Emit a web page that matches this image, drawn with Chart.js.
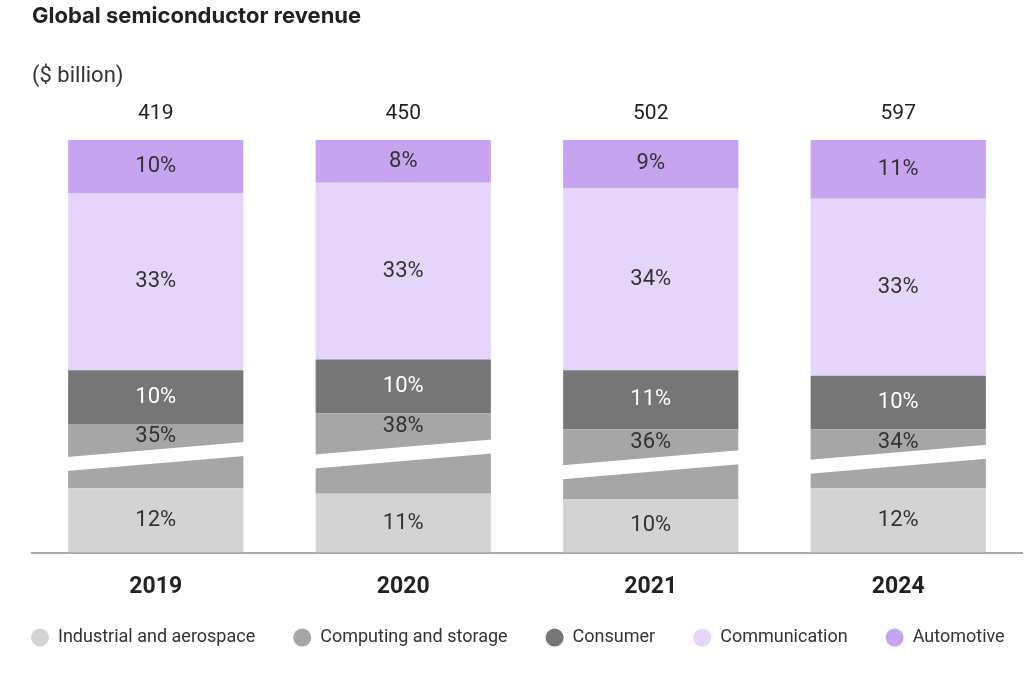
<!DOCTYPE html>
<html>
<head>
<meta charset="utf-8">
<script src="https://cdn.jsdelivr.net/npm/chart.js@4.4.1/dist/chart.umd.min.js"></script>
<style>
html, body { margin: 0; padding: 0; background: #fff; }
#wrap { width: 1024px; height: 681px; }
</style>
</head>
<body>
<div id="wrap"><canvas id="chart"></canvas></div>
<script>
var years = ['2019', '2020', '2021', '2024'];
var totals = [419, 450, 502, 597];
var industrial = [12, 11, 10, 12];
var computing = [35, 38, 36, 34];
var consumer = [10, 10, 11, 10];
var communication = [33, 33, 34, 33];
var automotive = [10, 8, 9, 11];
// the computing segment is drawn on a broken axis: this many points are cut out
var breakCut = 23;

var FONT = 'Roboto';

var segmentLabels = {
	id: 'segmentLabels',
	afterDatasetsDraw: function(chart) {
		var ctx = chart.ctx;
		ctx.save();
		// white diagonal break through the computing segment
		ctx.fillStyle = '#ffffff';
		chart.getDatasetMeta(1).data.forEach(function(bar) {
			var l = bar.x - bar.width / 2 - 1;
			var r = bar.x + bar.width / 2 + 1;
			var mid = (bar.y + bar.base) / 2;
			ctx.beginPath();
			ctx.moveTo(l, mid + 1);
			ctx.lineTo(r, mid - 14);
			ctx.lineTo(r, mid);
			ctx.lineTo(l, mid + 15);
			ctx.closePath();
			ctx.fill();
		});
		// percentage labels
		ctx.font = '22px ' + FONT;
		ctx.textAlign = 'center';
		ctx.textBaseline = 'middle';
		chart.data.datasets.forEach(function(ds, i) {
			var meta = chart.getDatasetMeta(i);
			ctx.fillStyle = ds.labelColor;
			meta.data.forEach(function(bar, j) {
				var y = i == 1 ? bar.y + 13 : (bar.y + bar.base) / 2;
				ctx.fillText(ds.pct[j] + '%', bar.x, y);
			});
		});
		// totals on top
		ctx.font = '21px ' + FONT;
		ctx.fillStyle = '#222222';
		var top = chart.getDatasetMeta(chart.data.datasets.length - 1);
		top.data.forEach(function(bar, j) {
			ctx.fillText(totals[j], bar.x, bar.y - 26);
		});
		ctx.restore();
	}
};

// legend in one row, like the original
var legendRow = {
	id: 'legendRow',
	afterDraw: function(chart) {
		var ctx = chart.ctx;
		var y = chart.chartArea.bottom + 85;
		var x = chart.chartArea.left + 8;
		ctx.save();
		ctx.font = '18px ' + FONT;
		ctx.textAlign = 'left';
		ctx.textBaseline = 'middle';
		chart.data.datasets.forEach(function(ds) {
			ctx.fillStyle = ds.backgroundColor;
			ctx.beginPath();
			ctx.arc(x, y, 9, 0, Math.PI * 2);
			ctx.fill();
			ctx.fillStyle = '#333333';
			ctx.fillText(ds.label, x + 18, y);
			x += 18 + ctx.measureText(ds.label).width + 47;
		});
		ctx.restore();
	}
};

var chart = new Chart(document.getElementById('chart').getContext('2d'), {
	type: 'bar',
	data: {
		labels: years,
		datasets: [
		{
			label: 'Industrial and aerospace',
			data: industrial,
			pct: industrial,
			backgroundColor: '#d3d3d3',
			labelColor: '#333333',
		},
		{
			label: 'Computing and storage',
			data: computing.map(function(v) { return v - breakCut; }),
			pct: computing,
			backgroundColor: '#a6a6a6',
			labelColor: '#333333',
		},
		{
			label: 'Consumer',
			data: consumer,
			pct: consumer,
			backgroundColor: '#767676',
			labelColor: '#ffffff',
		},
		{
			label: 'Communication',
			data: communication,
			pct: communication,
			backgroundColor: '#e6d5fa',
			labelColor: '#333333',
		},
		{
			label: 'Automotive',
			data: automotive,
			pct: automotive,
			backgroundColor: '#c6a4ef',
			labelColor: '#333333',
		}]
	},
	options: {
		responsive: true,
		maintainAspectRatio: false,
		animation: false,
		layout: { padding: { left: 32, right: 2, top: 0, bottom: 68 } },
		datasets: {
			bar: { barPercentage: 0.708, categoryPercentage: 1, borderWidth: 0 }
		},
		scales: {
			x: {
				stacked: true,
				grid: { display: false },
				border: { display: true, color: '#a9a9a9', width: 2 },
				ticks: {
					color: '#222222',
					padding: 17,
					font: { family: FONT, size: 23, weight: 'bold', lineHeight: 0.8 }
				}
			},
			y: {
				stacked: true,
				display: false,
				min: 0,
				max: 100 - breakCut
			}
		},
		plugins: {
			tooltip: { enabled: false },
			legend: { display: false },
			title: {
				display: true,
				text: 'Global semiconductor revenue',
				align: 'start',
				color: '#222222',
				font: { family: 'Inter', size: 22, weight: 'bold' },
				padding: { top: 3, bottom: 0 }
			},
			subtitle: {
				display: true,
				text: '($ billion)',
				align: 'start',
				color: '#333333',
				font: { family: FONT, size: 22, weight: 'normal' },
				padding: { top: 34, bottom: 50 }
			}
		}
	},
	plugins: [segmentLabels, legendRow]
});
</script>
</body>
</html>
